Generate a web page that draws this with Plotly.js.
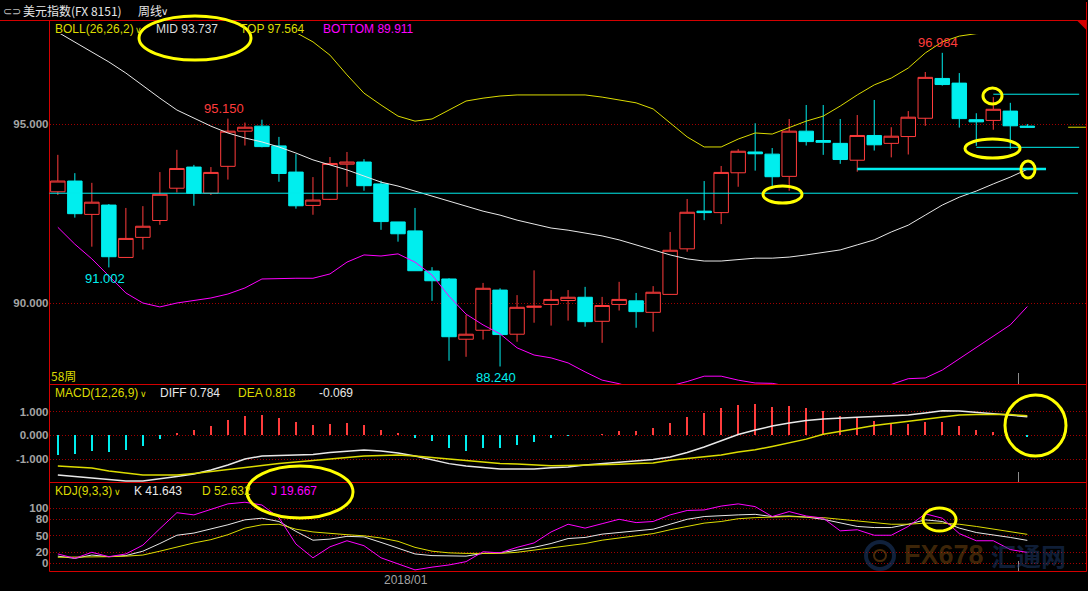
<!DOCTYPE html>
<html><head><meta charset="utf-8">
<script src="https://cdn.plot.ly/plotly-3.0.1.min.js"></script>
<style>html,body{margin:0;padding:0;background:#000;}#chart{width:1088px;height:591px;}</style>
</head><body><div id="chart"></div>
<script>
// ---------- DATA ----------
const weeks = ['2017-08-14','2017-08-21','2017-08-28','2017-09-04','2017-09-11','2017-09-18','2017-09-25','2017-10-02','2017-10-09','2017-10-16',
 '2017-10-23','2017-10-30','2017-11-06','2017-11-13','2017-11-20','2017-11-27','2017-12-04','2017-12-11','2017-12-18','2017-12-25',
 '2018-01-01','2018-01-08','2018-01-15','2018-01-22','2018-01-29','2018-02-05','2018-02-12','2018-02-19','2018-02-26','2018-03-05',
 '2018-03-12','2018-03-19','2018-03-26','2018-04-02','2018-04-09','2018-04-16','2018-04-23','2018-04-30','2018-05-07','2018-05-14',
 '2018-05-21','2018-05-28','2018-06-04','2018-06-11','2018-06-18','2018-06-25','2018-07-02','2018-07-09','2018-07-16','2018-07-23',
 '2018-07-30','2018-08-06','2018-08-13','2018-08-20','2018-08-27','2018-09-03','2018-09-10','2018-09-17'];

const open  = [93.11,93.41,92.48,92.74,91.28,91.84,92.31,93.21,93.80,93.07, 93.82,94.80,94.94,94.39,93.66,92.73,92.90,93.88,93.94,93.33,
 92.27,92.02,90.90,90.68,89.00,89.25,90.37,89.14,89.89,89.97, 90.08,90.17,89.50,89.97,90.07,89.75,90.25,91.52,92.57,92.53,
 93.64,94.22,94.16,93.54,94.80,94.54,94.46,93.99,94.68,94.46, 94.65,95.16,96.27,96.14,95.12,95.10,95.36,94.94];
const high  = [94.14,93.63,93.36,92.77,92.66,92.71,93.66,94.28,93.86,93.80, 95.15,95.04,95.12,94.64,94.16,93.52,94.08,94.22,94.02,93.42,
 92.27,92.66,91.01,90.70,89.68,90.57,90.42,90.23,90.92,90.37, 90.37,90.46,90.18,90.60,90.29,90.48,91.99,92.91,93.41,93.83,
 94.30,95.02,94.33,95.14,95.53,95.53,95.14,95.25,95.67,94.91, 95.36,96.45,96.984,96.42,95.30,95.75,95.59,95.00];
const low   = [93.02,92.39,91.58,91.002,91.27,91.50,92.19,93.09,92.72,93.02, 93.45,94.40,94.35,93.39,92.64,92.47,92.88,93.25,93.14,92.05,
 91.72,90.91,90.07,88.40,88.51,88.99,88.24,88.93,89.46,89.38, 89.52,89.35,88.90,89.80,89.32,89.21,90.24,91.44,92.32,92.21,
 93.25,93.70,93.22,93.14,94.40,94.14,93.89,93.67,94.26,94.07, 94.15,94.95,96.07,94.90,94.39,94.84,94.31,94.90];
const close = [93.41,92.50,92.82,91.30,91.81,92.15,93.04,93.76,93.07,93.65, 94.80,94.91,94.37,93.62,92.72,92.88,93.90,93.94,93.28,92.28,
 91.94,90.91,90.63,89.07,89.14,90.42,89.13,89.89,89.92,90.11, 90.17,89.49,89.94,90.11,89.77,90.31,91.48,92.54,92.53,93.65,
 94.24,94.17,93.53,94.80,94.51,94.49,94.01,94.68,94.42,94.66, 95.19,96.30,96.10,95.15,95.06,95.41,94.95,94.91];

// BOLL(26,26,2)
const bollMid = [97.56,97.29,97.00,96.73,96.42,96.06,95.72,95.39,95.17,94.94, 94.75,94.61,94.50,94.36,94.19,94.00,93.86,93.72,93.55,93.38,
 93.27,93.13,92.99,92.83,92.69,92.57,92.46,92.32,92.21,92.10, 92.04,91.96,91.88,91.77,91.63,91.49,91.35,91.24,91.18,91.18,
 91.21,91.26,91.26,91.29,91.35,91.43,91.49,91.63,91.77,91.99, 92.18,92.46,92.74,92.96,93.13,93.33,93.52,93.737];
const bollTop = [100.3,100.1,99.9,99.7,99.5,99.3,99.1,98.9,98.7,98.5, 98.3,98.1,97.9,97.75,97.55,97.29,96.92,96.37,95.86,95.53,
 95.22,95.08,95.14,95.39,95.64,95.72,95.78,95.81,95.81,95.81, 95.81,95.81,95.75,95.67,95.59,95.42,95.03,94.64,94.36,94.36,
 94.58,94.75,94.72,94.89,95.08,95.22,95.50,95.81,96.09,96.28, 96.56,96.98,97.29,97.45,97.52,97.54,97.55,97.564];
const bollBottom = [92.12,91.65,91.24,90.76,90.29,90.01,89.90,90.01,90.09,90.15, 90.26,90.43,90.68,90.70,90.70,90.70,90.82,91.15,91.35,91.32,
 91.38,91.15,90.79,90.20,89.70,89.40,89.15,88.76,88.56,88.48, 88.34,88.09,87.86,87.76,87.62,87.58,87.70,87.82,87.97,87.97,
 87.86,87.78,87.77,87.68,87.60,87.55,87.55,87.60,87.66,87.74, 87.90,87.92,88.14,88.45,88.76,89.09,89.40,89.911];

// MACD(12,26,9)
const macdDiff = [-1.67,-1.73,-1.81,-1.88,-1.92,-1.92,-1.84,-1.73,-1.63,-1.46, -1.25,-1.00,-0.87,-0.85,-0.83,-0.81,-0.72,-0.66,-0.62,-0.66,
 -0.74,-0.87,-1.03,-1.19,-1.29,-1.37,-1.42,-1.42,-1.42,-1.36, -1.33,-1.25,-1.19,-1.15,-1.08,-1.02,-0.91,-0.72,-0.49,-0.24,
 0.03,0.22,0.39,0.52,0.62,0.68,0.73,0.76,0.79,0.81, 0.85,0.94,1.03,1.02,0.96,0.92,0.87,0.784];
const macdDea = [-1.29,-1.33,-1.37,-1.50,-1.58,-1.67,-1.67,-1.67,-1.60,-1.52, -1.46,-1.35,-1.27,-1.18,-1.12,-1.07,-1.00,-0.93,-0.87,-0.85,
 -0.83,-0.87,-0.93,-1.02,-1.08,-1.12,-1.18,-1.21,-1.25,-1.28, -1.27,-1.26,-1.24,-1.22,-1.19,-1.16,-1.05,-0.98,-0.90,-0.83,
 -0.70,-0.61,-0.47,-0.32,-0.16,0.04,0.18,0.29,0.41,0.50, 0.58,0.66,0.75,0.85,0.87,0.88,0.87,0.818];
const macdHist = [-0.83,-0.78,-0.66,-0.69,-0.62,-0.43,-0.15,0.11,0.22,0.41, 0.64,0.83,0.87,0.73,0.56,0.43,0.47,0.52,0.43,0.22,
 0.10,-0.10,-0.24,-0.53,-0.66,-0.52,-0.53,-0.40,-0.27,-0.10, -0.02,0.02,0.06,0.18,0.18,0.31,0.52,0.77,0.94,1.15,
 1.27,1.32,1.19,1.23,1.15,1.02,0.81,0.74,0.60,0.53, 0.48,0.56,0.56,0.39,0.22,0.14,0.01,-0.069];

// KDJ(9,3,3)
const kdjK = [13,9,15,12,14,22,36,51,55,62, 70,79,82,76,58,42,44,49,48,38, 28,17,14,13,13,18,19,24,29,36,
 45,47,53,56,59,62,71,80,85,87, 88,89,85,86,84,80,74,67,65,65, 71,79,76,64,56,52,47,41.643];
const kdjD = [11,11,12,12,13,15,22,30,37,43, 52,64,70,71,62,57,54,52,50,46, 40,29,22,19,18,18,18,20,24,28,
 32,36,42,46,50,54,61,67,73,76, 81,83,84,85,84,83,80,77,74,71, 71,73,73,71,67,62,58,52.632];
const kdjJ = [17,9,20,12,17,33,63,92,88,98, 108,111,106,83,35,10,30,41,32,10, -1,-12,-7,-3,3,21,19,29,37,57,
 71,64,72,80,74,76,88,96,97,104, 108,103,85,94,86,82,59,61,51,51, 67,90,82,54,41,41,25,19.667];

// axis ticks
const priceTicks = [90, 95];
const macdTicks = [-1, 0, 1];
const kdjTicks = [0, 20, 50, 80, 100];
const xTickWeek = '2018-01-01', xTickText = '2018/01';
// hand-drawn support / resistance levels on the chart
const drawnLevels = [93.07, 93.745, 95.83, 94.35];
// labelled extremes (week index)
const markedHighs = [10, 52];
const markedLows = [3, 26];

// ---------- BUILD ----------
const W = 1088, H = 591;
const px = x => x / W, py = y => 1 - y / H;
const FONT = 'Liberation Sans, Arial, sans-serif';
const CJK = 'Noto Sans CJK SC, Liberation Sans, sans-serif';
const idx = weeks.map((_, i) => i);
const RED = '#ff3c3c', CYAN = '#00eeee', YEL = '#dcdc00', MAG = '#ff00ff', WHT = '#e8e8e8';
const last = weeks.length - 1;

const traces = [
  {type:'candlestick', x:idx, open, high, low, close, xaxis:'x', yaxis:'y', whiskerwidth:0,
   increasing:{line:{color:RED, width:1}, fillcolor:'#000000'},
   decreasing:{line:{color:CYAN, width:1}, fillcolor:CYAN}, hoverinfo:'skip'},
  {type:'scatter', mode:'lines', x:idx, y:bollMid, line:{color:WHT, width:1}, xaxis:'x', yaxis:'y', hoverinfo:'skip'},
  {type:'scatter', mode:'lines', x:idx, y:bollTop, line:{color:YEL, width:1}, xaxis:'x', yaxis:'y', hoverinfo:'skip'},
  {type:'scatter', mode:'lines', x:idx, y:bollBottom, line:{color:MAG, width:1}, xaxis:'x', yaxis:'y', hoverinfo:'skip'},
  {type:'bar', x:idx, y:macdHist, width:0.1, xaxis:'x', yaxis:'y2',
   marker:{color:macdHist.map(v => v >= 0 ? RED : CYAN), line:{width:0}}, hoverinfo:'skip'},
  {type:'scatter', mode:'lines', x:idx, y:macdDiff, line:{color:WHT, width:1.5}, xaxis:'x', yaxis:'y2', hoverinfo:'skip'},
  {type:'scatter', mode:'lines', x:idx, y:macdDea, line:{color:YEL, width:1.5}, xaxis:'x', yaxis:'y2', hoverinfo:'skip'},
  {type:'scatter', mode:'lines', x:idx, y:kdjK, line:{color:WHT, width:1}, xaxis:'x', yaxis:'y3', hoverinfo:'skip'},
  {type:'scatter', mode:'lines', x:idx, y:kdjD, line:{color:YEL, width:1}, xaxis:'x', yaxis:'y3', hoverinfo:'skip'},
  {type:'scatter', mode:'lines', x:idx, y:kdjJ, line:{color:MAG, width:1}, xaxis:'x', yaxis:'y3', hoverinfo:'skip'}
];

const tickFont = {family:FONT, size:11.5, color:'#a4a4a4', weight:'bold'};
const yBase = {showline:false, zeroline:false, ticks:'', showgrid:true, gridcolor:'#a00000', griddash:'1px,2px', gridwidth:1, tickfont:tickFont, fixedrange:true};
const fmt3 = v => v.toFixed(3);

function txt(x, y, text, color, size, extra) {
  return Object.assign({xref:'paper', yref:'paper', x:px(x), y:py(y), text, showarrow:false,
    xanchor:'left', yanchor:'middle', borderpad:0, font:{family:FONT, size:size || 12, color}}, extra || {});
}
const annotations = [
  txt(2, 11, '⊂⊃', '#bdbdbd', 11),
  txt(22, 11, '美元指数(FX 8151)', '#e6e6e6', 12, {font:{family:CJK, size:12, color:'#e6e6e6'}}),
  txt(137, 11, '周线', '#e6e6e6', 12, {font:{family:CJK, size:12, color:'#e6e6e6'}}),
  txt(160, 12, '∨', '#e6e6e6', 10),
  txt(54, 29, 'BOLL(26,26,2)', YEL, 12),
  txt(134, 30, '∨', YEL, 9),
  txt(155, 29, 'MID ' + fmt3(bollMid[last]), '#dcdcdc', 12),
  txt(239, 29, 'TOP ' + fmt3(bollTop[last]), YEL, 12),
  txt(322, 29, 'BOTTOM ' + fmt3(bollBottom[last]), MAG, 12),
  txt(50, 375, weeks.length + '周', YEL, 12, {font:{family:CJK, size:12, color:YEL}}),
  txt(54, 393, 'MACD(12,26,9)', YEL, 12),
  txt(139, 394, '∨', YEL, 9),
  txt(159, 393, 'DIFF ' + fmt3(macdDiff[last]), WHT, 12),
  txt(237, 393, 'DEA ' + fmt3(macdDea[last]), YEL, 12),
  txt(318, 393, fmt3(macdHist[last]), WHT, 12),
  txt(54, 491, 'KDJ(9,3,3)', YEL, 12),
  txt(113, 492, '∨', YEL, 9),
  txt(133, 491, 'K ' + fmt3(kdjK[last]), WHT, 12),
  txt(201, 491, 'D ' + fmt3(kdjD[last]), YEL, 12),
  txt(270, 491, 'J ' + fmt3(kdjJ[last]), MAG, 12),
  {xref:'x', yref:'paper', x:weeks.indexOf(xTickWeek), y:py(580), xshift:8, text:xTickText, showarrow:false,
   xanchor:'center', yanchor:'middle', font:{family:FONT, size:12, color:'#a4a4a4'}},
  // watermark
  txt(985, 555, '<b>FX678</b>', 'rgba(140,85,20,0.45)', 27, {xanchor:'right'}),
  txt(990, 555, '<b>汇通网</b>', 'rgba(30,60,110,0.5)', 25, {font:{family:CJK, size:25, color:'rgba(30,60,110,0.5)'}})
];
markedHighs.forEach(i => annotations.push({xref:'x', yref:'y', x:i, y:high[i], text:fmt3(high[i]), showarrow:false,
  xanchor:'center', yanchor:'bottom', xshift:-4, yshift:1, font:{family:FONT, size:13, color:RED}}));
markedLows.forEach(i => annotations.push({xref:'x', yref:'y', x:i, y:low[i], text:fmt3(low[i]), showarrow:false,
  xanchor:'center', yanchor:'top', xshift:-4, yshift:-2, font:{family:FONT, size:13, color:CYAN}}));

function pline(x0, y0, x1, y1, color, width) {
  return {type:'line', xref:'paper', yref:'paper', x0:px(x0), y0:py(y0), x1:px(x1), y1:py(y1), line:{color, width:width || 1}};
}
function ell(x0, y0, x1, y1) {
  return {type:'circle', xref:'paper', yref:'paper', x0:px(x0), y0:py(y0), x1:px(x1), y1:py(y1), line:{color:'#ffff00', width:3}};
}
const BR = '#d40000';
const shapes = [
  pline(0, 20.5, 1086.5, 20.5, BR), pline(1086.5, 2, 1086.5, 571.5, BR), pline(49.5, 20.5, 49.5, 571.5, BR),
  pline(49.5, 384.5, 1086.5, 384.5, BR), pline(49.5, 482.5, 1086.5, 482.5, BR), pline(49.5, 571.5, 1086.5, 571.5, BR),
  {type:'path', xref:'paper', yref:'paper', path:`M ${px(1077)},${py(20.5)} L ${px(1086.5)},${py(20.5)} L ${px(1086.5)},${py(30)} Z`, fillcolor:BR, line:{width:0}},
  // hand-drawn levels
  {type:'line', xref:'paper', yref:'y', x0:px(49.5), x1:px(1078), y0:drawnLevels[0], y1:drawnLevels[0], line:{color:CYAN, width:1}},
  {type:'line', xref:'x', yref:'y', x0:47, x1:58.1, y0:drawnLevels[1], y1:drawnLevels[1], line:{color:CYAN, width:2.5}},
  {type:'line', xref:'x', yref:'y', x0:55, x1:60.05, y0:drawnLevels[2], y1:drawnLevels[2], line:{color:CYAN, width:1}},
  {type:'line', xref:'x', yref:'y', x0:54, x1:60.05, y0:drawnLevels[3], y1:drawnLevels[3], line:{color:CYAN, width:1}},
  {type:'line', xref:'x', yref:'y', x0:59.4, x1:60.45, y0:close[last], y1:close[last], line:{color:YEL, width:1}},
  // cursor ticks
  pline(1018.5, 373, 1018.5, 384, '#8c8c8c'), pline(1018.5, 472, 1018.5, 482, '#8c8c8c'), pline(1018.5, 561, 1018.5, 571, '#8c8c8c'),
  // watermark logo
  {type:'circle', xref:'paper', yref:'paper', x0:px(866), y0:py(542), x1:px(894), y1:py(569), line:{color:'rgba(30,60,110,0.55)', width:4}},
  {type:'circle', xref:'paper', yref:'paper', x0:px(874), y0:py(550), x1:px(886), y1:py(561), line:{color:'rgba(140,85,20,0.5)', width:2}},
  // highlight ellipses
  ell(139, 16, 251, 60), ell(763, 186, 802, 203), ell(983, 88, 1002, 104), ell(965, 139, 1020, 158),
  ell(1021, 161, 1035, 178), ell(1005, 395, 1066, 456), ell(247, 466, 353, 518), ell(923, 508, 956, 531)
];

const layout = {
  width:W, height:H, paper_bgcolor:'#000', plot_bgcolor:'#000', margin:{l:0, r:0, t:0, b:0, pad:0},
  showlegend:false, hovermode:false, boxgap:0.15, boxgroupgap:0, bargap:0,
  xaxis:{domain:[px(49.5), px(1086)], range:[-0.49, 60.45], anchor:'y3', showticklabels:false, showgrid:false,
    zeroline:false, showline:false, ticks:'', rangeslider:{visible:false}, fixedrange:true},
  yaxis:Object.assign({}, yBase, {domain:[py(384), py(34)], range:[87.752, 97.509], tickvals:priceTicks, ticktext:priceTicks.map(fmt3), anchor:'x'}),
  yaxis2:Object.assign({}, yBase, {domain:[py(482), py(384)], range:[-1.962, 2.155], tickvals:macdTicks, ticktext:macdTicks.map(fmt3), anchor:'x'}),
  yaxis3:Object.assign({}, yBase, {domain:[py(571), py(482)], range:[-14, 147.8], tickvals:kdjTicks, ticktext:kdjTicks.map(String), anchor:'x'}),
  annotations, shapes
};
Plotly.newPlot('chart', traces, layout, {staticPlot:true, displayModeBar:false});
</script></body></html>
